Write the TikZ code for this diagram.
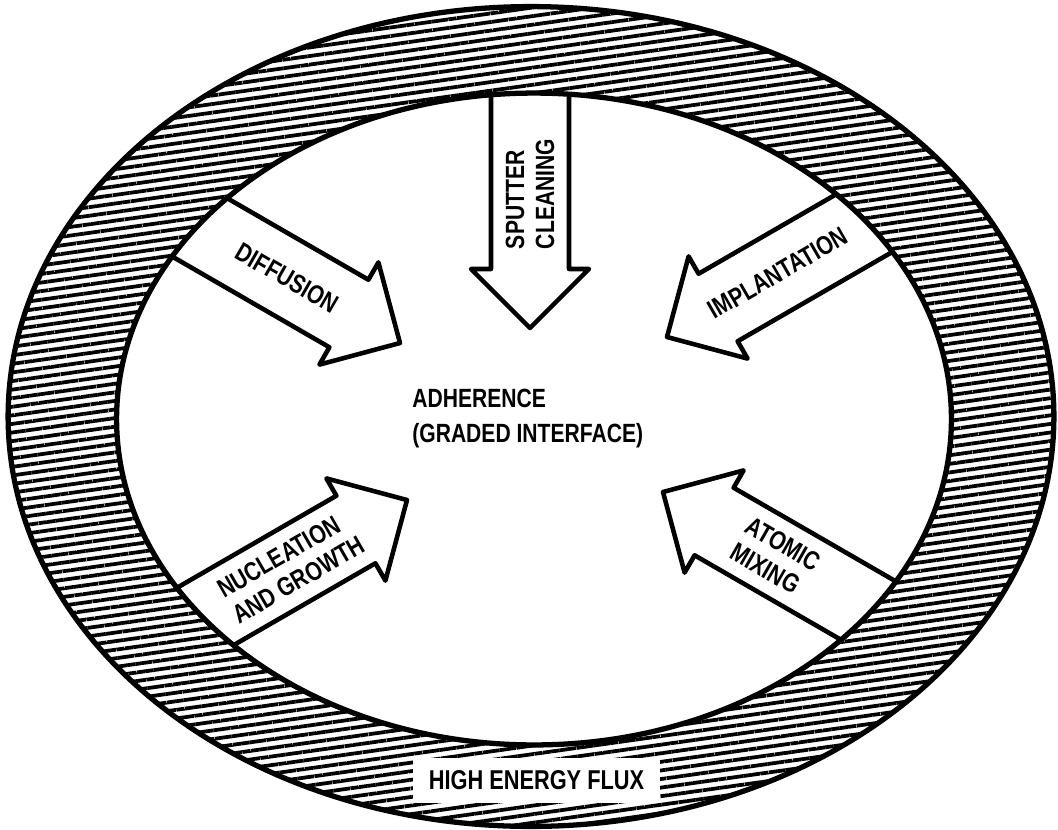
\documentclass[tikz,border=0pt]{standalone}
\usepackage{fontspec}
\setmainfont{Liberation Sans}[FakeStretch=0.8]
\usepackage{tikz}
\usetikzlibrary{calc,patterns.meta}

\tikzset{
  fluxarrow/.style={fill=white,draw=black,line width=2.6pt,line join=round},
  arrowtext/.style={
    font=\bfseries\fontsize{15}{17}\selectfont,
    align=left,
    inner sep=0pt,
    transform shape
  },
  ringline/.style={draw=black,line width=3pt},
  grain/.style={pattern={Lines[angle=8,distance=0.17cm,line width=0.075cm]}}
}

\begin{document}
\begin{tikzpicture}[x=0.02cm,y=-0.02cm]
    \useasboundingbox (0,0) rectangle (1058,829);
    \fill[white] (0,0) rectangle (1058,829);
    \coordinate (ringc) at (531,416.5);
    \coordinate (holec) at (534,419);
    \fill[white] (ringc) ellipse [x radius=10.46cm, y radius=8.2cm];
    \fill[grain,even odd rule]
      (ringc) ellipse [x radius=10.46cm, y radius=8.2cm]
      (holec) ellipse [x radius=8.35cm, y radius=6.52cm];
    \begin{scope}
      \clip (holec) ellipse [x radius=8.35cm, y radius=6.52cm];
      \begin{scope}[shift={(400,343)},rotate=-30]
        \draw[fluxarrow] (0,0) -- (-59,59) -- (-59,39) -- (-300,39)
          -- (-300,-39) -- (-59,-39) -- (-59,-59) -- cycle;
        \node[arrowtext] (diff) at (-130,0) {DIFFUSION};
      \end{scope}
      \begin{scope}[shift={(530,328)},rotate=-90]
        \draw[fluxarrow] (0,0) -- (-59,59) -- (-59,39) -- (-300,39)
          -- (-300,-39) -- (-59,-39) -- (-59,-59) -- cycle;
        \node[arrowtext,rotate=180] (sput) at (-134,0) {SPUTTER\\CLEANING};
      \end{scope}
      \begin{scope}[shift={(667,337)},rotate=210]
        \draw[fluxarrow] (0,0) -- (-59,59) -- (-59,39) -- (-300,39)
          -- (-300,-39) -- (-59,-39) -- (-59,-59) -- cycle;
        \node[arrowtext,rotate=180] (impl) at (-128,0) {IMPLANTATION};
      \end{scope}
      \begin{scope}[shift={(407,500)},rotate=30]
        \draw[fluxarrow] (0,0) -- (-59,59) -- (-59,39) -- (-300,39)
          -- (-300,-39) -- (-59,-39) -- (-59,-59) -- cycle;
        \node[arrowtext] (nucl) at (-134,0) {NUCLEATION\\AND GROWTH};
      \end{scope}
      \begin{scope}[shift={(663,492)},rotate=150]
        \draw[fluxarrow] (0,0) -- (-59,59) -- (-59,39) -- (-300,39)
          -- (-300,-39) -- (-59,-39) -- (-59,-59) -- cycle;
        \node[arrowtext,rotate=180] (atom) at (-130,0) {ATOMIC\\MIXING};
      \end{scope}
    \end{scope}
    \draw[ringline] (ringc) ellipse [x radius=10.46cm, y radius=8.2cm];
    \draw[ringline] (holec) ellipse [x radius=8.35cm, y radius=6.52cm];
    \node[
      font=\bfseries\fontsize{15}{20}\selectfont,
      align=left,
      inner sep=0pt,
      anchor=north west
    ] (adh) at (412,389) {ADHERENCE\\(GRADED INTERFACE)};
    \node[
      font=\bfseries\fontsize{15.5}{17}\selectfont,
      fill=white,
      minimum width=4.94cm,
      minimum height=0.9cm
    ] (flux) at (536.5,780.5) {HIGH ENERGY FLUX};
\end{tikzpicture}
\end{document}
